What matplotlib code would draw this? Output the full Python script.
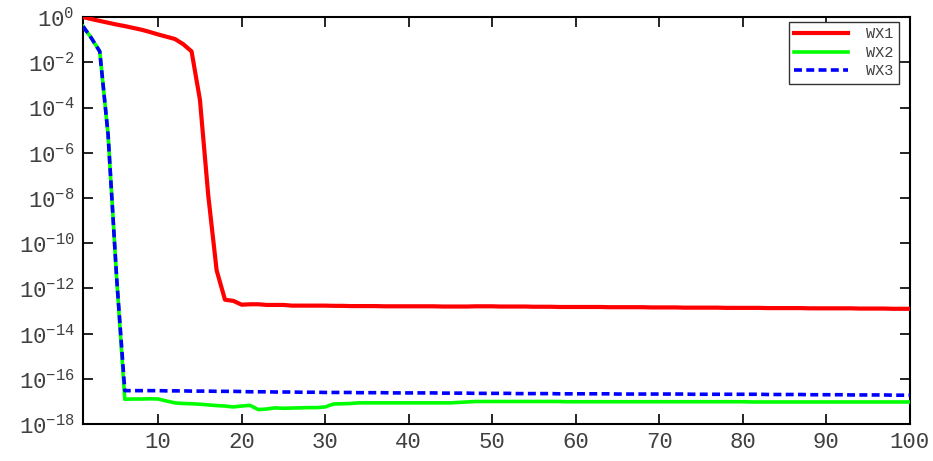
import matplotlib
matplotlib.use("Agg")
import matplotlib.pyplot as plt
import numpy as np

# iteration index
iters = list(range(1, 101))

# values, as log10 of the error
wx1_log = [
    0.00, -0.09, -0.17, -0.25, -0.33, -0.40, -0.48, -0.56, -0.66, -0.77,
    -0.87, -0.97, -1.20, -1.52, -3.66, -7.90, -11.20, -12.50, -12.55, -12.72,
    -12.70, -12.70, -12.73, -12.73, -12.73, -12.76, -12.76, -12.76, -12.76, -12.76,
    -12.77, -12.77, -12.78, -12.78, -12.78, -12.78, -12.79, -12.79, -12.79, -12.79,
    -12.79, -12.79, -12.79, -12.80, -12.80, -12.80, -12.80, -12.79, -12.79, -12.79,
    -12.80, -12.80, -12.80, -12.80, -12.81, -12.81, -12.81, -12.82, -12.82, -12.82,
    -12.82, -12.82, -12.82, -12.83, -12.83, -12.83, -12.83, -12.83, -12.84, -12.84,
    -12.84, -12.84, -12.85, -12.85, -12.85, -12.85, -12.85, -12.86, -12.86, -12.86,
    -12.86, -12.86, -12.87, -12.87, -12.87, -12.87, -12.87, -12.88, -12.88, -12.88,
    -12.88, -12.88, -12.88, -12.89, -12.89, -12.89, -12.89, -12.90, -12.90, -12.90,
]

wx2_log = [
    -0.41, -0.93, -1.52, -5.20, -11.40, -16.90, -16.89, -16.89, -16.88, -16.89,
    -16.98, -17.06, -17.09, -17.10, -17.12, -17.15, -17.18, -17.20, -17.24, -17.20,
    -17.17, -17.36, -17.33, -17.28, -17.30, -17.29, -17.28, -17.27, -17.27, -17.24,
    -17.11, -17.10, -17.09, -17.06, -17.06, -17.06, -17.06, -17.06, -17.06, -17.06,
    -17.06, -17.06, -17.06, -17.06, -17.06, -17.04, -17.02, -17.00, -17.00, -17.00,
    -17.00, -17.00, -17.00, -17.00, -17.00, -17.00, -17.00, -17.00, -17.01, -17.01,
    -17.01, -17.01, -17.01, -17.01, -17.01, -17.01, -17.01, -17.01, -17.01, -17.01,
    -17.01, -17.01, -17.01, -17.01, -17.01, -17.01, -17.01, -17.01, -17.01, -17.01,
    -17.02, -17.02, -17.02, -17.02, -17.02, -17.02, -17.02, -17.02, -17.02, -17.02,
    -17.02, -17.02, -17.02, -17.02, -17.02, -17.02, -17.02, -17.02, -17.02, -17.02,
]

wx3_log = [
    -0.41, -0.93, -1.52, -5.20, -11.40, -16.52, -16.52, -16.52, -16.52, -16.52,
    -16.53, -16.53, -16.53, -16.54, -16.54, -16.54, -16.55, -16.55, -16.55, -16.56,
    -16.57, -16.57, -16.57, -16.58, -16.58, -16.58, -16.59, -16.59, -16.59, -16.60,
    -16.60, -16.60, -16.60, -16.61, -16.61, -16.61, -16.61, -16.62, -16.62, -16.62,
    -16.62, -16.62, -16.62, -16.63, -16.63, -16.63, -16.63, -16.64, -16.64, -16.64,
    -16.64, -16.64, -16.65, -16.65, -16.65, -16.65, -16.65, -16.66, -16.66, -16.66,
    -16.66, -16.66, -16.66, -16.66, -16.67, -16.67, -16.67, -16.67, -16.67, -16.67,
    -16.67, -16.67, -16.67, -16.68, -16.68, -16.68, -16.68, -16.68, -16.68, -16.68,
    -16.68, -16.68, -16.69, -16.69, -16.69, -16.69, -16.69, -16.70, -16.70, -16.70,
    -16.70, -16.70, -16.71, -16.71, -16.71, -16.71, -16.71, -16.72, -16.72, -16.72,
]

series_names = ["WX1", "WX2", "WX3"]
x_ticks = [10, 20, 30, 40, 50, 60, 70, 80, 90, 100]
y_exponents = [0, -2, -4, -6, -8, -10, -12, -14, -16, -18]

label_font = "Liberation Mono"
text_color = "#404040"

fig = plt.figure(figsize=(9.33, 4.61), dpi=100)
ax = fig.add_axes([0.089, 0.080, 0.886, 0.883])

ax.plot(iters, 10.0 ** np.array(wx1_log), color="#ff0000", lw=3.0,
        label=series_names[0], zorder=3)
ax.plot(iters, 10.0 ** np.array(wx2_log), color="#00ff00", lw=2.6,
        label=series_names[1], zorder=3)
ax.plot(iters, 10.0 ** np.array(wx3_log), color="#0000ff", lw=2.6,
        ls=(0, (2.2, 1.2)), label=series_names[2], zorder=4)

ax.set_yscale("log")
ax.set_xlim(1, 100)
ax.set_ylim(1e-18, 1e0)

ax.set_xticks(x_ticks)
ax.set_xticklabels([str(t) for t in x_ticks])
ax.set_yticks([10.0 ** e for e in y_exponents])
ax.set_yticklabels([r"$\mathregular{10^{%d}}$" % e for e in y_exponents])
ax.yaxis.set_minor_locator(matplotlib.ticker.NullLocator())

ax.tick_params(which="major", direction="in", length=7, width=1.2,
               top=True, right=True, labelsize=16, labelcolor=text_color,
               pad=6)
for lab in ax.get_xticklabels() + ax.get_yticklabels():
    lab.set_family(label_font)

for sp in ax.spines.values():
    sp.set_linewidth(1.5)
    sp.set_color("black")

leg = ax.legend(loc="upper right", bbox_to_anchor=(0.987, 0.988),
                prop={"family": label_font, "size": 11},
                handlelength=3.5, handletextpad=1.2, labelspacing=0.3,
                borderpad=0.35, fancybox=False, framealpha=1,
                edgecolor="#333333", borderaxespad=0)
for t in leg.get_texts():
    t.set_color(text_color)
leg.get_frame().set_linewidth(1.0)

fig.savefig("out.png", dpi=100)
